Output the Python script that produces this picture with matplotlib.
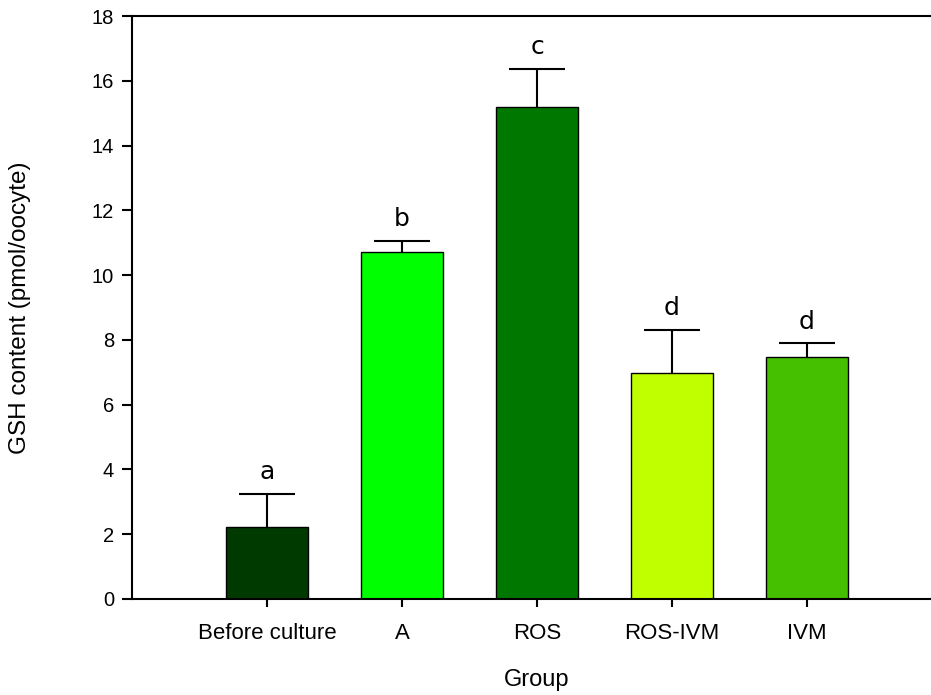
import matplotlib
matplotlib.use("Agg")
import matplotlib.pyplot as plt
import numpy as np

groups = ['Before culture', 'A', 'ROS', 'ROS-IVM', 'IVM']
gsh = [2.21, 10.72, 15.2, 6.98, 7.46]
sem = [1.04, 0.33, 1.16, 1.34, 0.43]
letters = ['a', 'b', 'c', 'd', 'd']
colors = ['#003a00', '#00ff00', '#007800', '#c0ff00', '#44c000']

plt.rcParams['font.family'] = ['Liberation Sans', 'DejaVu Sans']

fig = plt.figure(figsize=(9.31, 6.95), dpi=100)
ax = fig.add_axes([132/931, 96/695, 799/931, 583/695])

x = np.arange(1, len(groups) + 1)
# error bars under the bars so only the upper half shows
ax.errorbar(x, gsh, yerr=sem, fmt='none', ecolor='black',
            elinewidth=1.5, capsize=20, capthick=1.5, zorder=1)
ax.bar(x, gsh, width=0.61, color=colors, edgecolor='black', linewidth=1, zorder=2)

for xi, g, s, l in zip(x, gsh, sem, letters):
    ax.text(xi, g + s + 0.3, l, ha='center', va='bottom', fontsize=18,
            family='DejaVu Sans')

ax.set_xlim(0, 799/135)
ax.set_ylim(0, 18)
ax.set_yticks(range(0, 19, 2))
ax.set_xticks(x)
ax.set_xticklabels(groups)

for side in ['left', 'bottom', 'top']:
    ax.spines[side].set_linewidth(1.5)
ax.spines['right'].set_visible(False)
ax.tick_params(axis='both', direction='out', width=1.5)
ax.tick_params(axis='y', length=7, pad=6, labelsize=14.5)
ax.tick_params(axis='x', length=6, pad=11, labelsize=16)
ax.tick_params(axis='x', which='both', top=False)

ax.set_ylabel('GSH content (pmol/oocyte)', fontsize=17.5)
ax.set_xlabel('Group', fontsize=17)
ax.yaxis.set_label_coords((20 - 132) / 799, 0.5)
ax.xaxis.set_label_coords((537 - 132) / 799, -(680 - 599) / 583)
ax.xaxis.label.set_va('center')
ax.yaxis.label.set_va('center')

fig.savefig('out.png', dpi=100)
